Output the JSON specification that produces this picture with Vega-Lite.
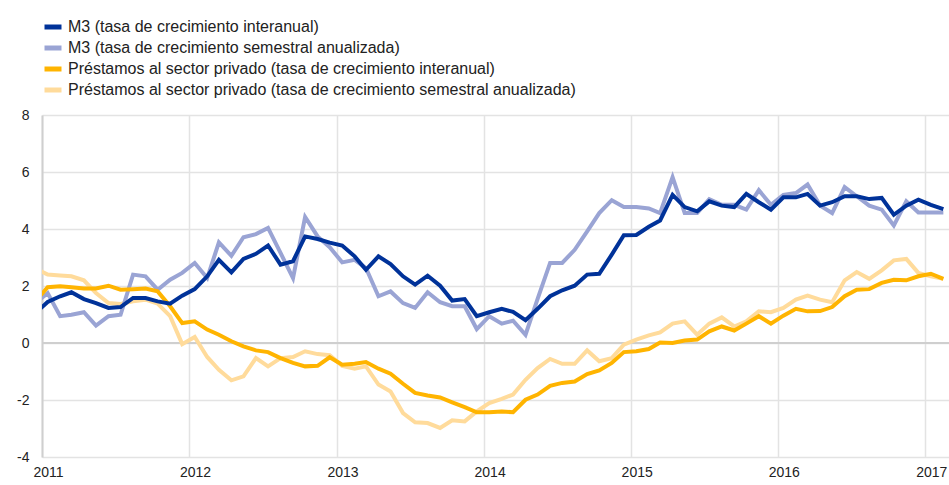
{
  "$schema": "https://vega.github.io/schema/vega-lite/v6.json",
  "autosize": "none",
  "width": 907,
  "height": 342,
  "padding": {"left": 42, "top": 115, "right": 0, "bottom": 28},
  "background": "white",
  "config": {
    "font": "Liberation Sans",
    "view": {"stroke": null},
    "axis": {
      "title": null,
      "labelFontSize": 14,
      "labelColor": "#222222",
      "ticks": false,
      "grid": true,
      "gridColor": "#e3e3e3",
      "gridWidth": 1.5
    }
  },
  "data": {
    "values": [
      {"month": "2010-12-15", "m3_ia": 1.04, "m3_sa": 1.39, "pr_ia": 1.45, "pr_sa": 2.63},
      {"month": "2011-01-15", "m3_ia": 1.44, "m3_sa": 1.75, "pr_ia": 1.96, "pr_sa": 2.40},
      {"month": "2011-02-15", "m3_ia": 1.64, "m3_sa": 0.94, "pr_ia": 1.99, "pr_sa": 2.37},
      {"month": "2011-03-15", "m3_ia": 1.78, "m3_sa": 0.99, "pr_ia": 1.96, "pr_sa": 2.34},
      {"month": "2011-04-15", "m3_ia": 1.54, "m3_sa": 1.08, "pr_ia": 1.91, "pr_sa": 2.20},
      {"month": "2011-05-15", "m3_ia": 1.40, "m3_sa": 0.61, "pr_ia": 1.91, "pr_sa": 1.75},
      {"month": "2011-06-15", "m3_ia": 1.23, "m3_sa": 0.94, "pr_ia": 2.01, "pr_sa": 1.40},
      {"month": "2011-07-15", "m3_ia": 1.26, "m3_sa": 0.99, "pr_ia": 1.87, "pr_sa": 1.37},
      {"month": "2011-08-15", "m3_ia": 1.58, "m3_sa": 2.40, "pr_ia": 1.89, "pr_sa": 1.46},
      {"month": "2011-09-15", "m3_ia": 1.58, "m3_sa": 2.34, "pr_ia": 1.91, "pr_sa": 1.52},
      {"month": "2011-10-15", "m3_ia": 1.46, "m3_sa": 1.87, "pr_ia": 1.81, "pr_sa": 1.38},
      {"month": "2011-11-15", "m3_ia": 1.38, "m3_sa": 2.22, "pr_ia": 1.29, "pr_sa": 0.94},
      {"month": "2011-12-15", "m3_ia": 1.66, "m3_sa": 2.46, "pr_ia": 0.70, "pr_sa": -0.04},
      {"month": "2012-01-15", "m3_ia": 1.89, "m3_sa": 2.81, "pr_ia": 0.76, "pr_sa": 0.21},
      {"month": "2012-02-15", "m3_ia": 2.34, "m3_sa": 2.28, "pr_ia": 0.47, "pr_sa": -0.49},
      {"month": "2012-03-15", "m3_ia": 2.92, "m3_sa": 3.53, "pr_ia": 0.29, "pr_sa": -0.94},
      {"month": "2012-04-15", "m3_ia": 2.48, "m3_sa": 3.06, "pr_ia": 0.06, "pr_sa": -1.31},
      {"month": "2012-05-15", "m3_ia": 2.95, "m3_sa": 3.71, "pr_ia": -0.12, "pr_sa": -1.17},
      {"month": "2012-06-15", "m3_ia": 3.13, "m3_sa": 3.82, "pr_ia": -0.26, "pr_sa": -0.53},
      {"month": "2012-07-15", "m3_ia": 3.42, "m3_sa": 4.04, "pr_ia": -0.32, "pr_sa": -0.82},
      {"month": "2012-08-15", "m3_ia": 2.75, "m3_sa": 3.16, "pr_ia": -0.53, "pr_sa": -0.53},
      {"month": "2012-09-15", "m3_ia": 2.87, "m3_sa": 2.28, "pr_ia": -0.70, "pr_sa": -0.49},
      {"month": "2012-10-15", "m3_ia": 3.74, "m3_sa": 4.42, "pr_ia": -0.82, "pr_sa": -0.29},
      {"month": "2012-11-15", "m3_ia": 3.65, "m3_sa": 3.74, "pr_ia": -0.80, "pr_sa": -0.39},
      {"month": "2012-12-15", "m3_ia": 3.52, "m3_sa": 3.36, "pr_ia": -0.50, "pr_sa": -0.43},
      {"month": "2013-01-15", "m3_ia": 3.42, "m3_sa": 2.83, "pr_ia": -0.76, "pr_sa": -0.80},
      {"month": "2013-02-15", "m3_ia": 3.04, "m3_sa": 2.92, "pr_ia": -0.73, "pr_sa": -0.90},
      {"month": "2013-03-15", "m3_ia": 2.57, "m3_sa": 2.63, "pr_ia": -0.67, "pr_sa": -0.82},
      {"month": "2013-04-15", "m3_ia": 3.04, "m3_sa": 1.64, "pr_ia": -0.90, "pr_sa": -1.46},
      {"month": "2013-05-15", "m3_ia": 2.77, "m3_sa": 1.81, "pr_ia": -1.08, "pr_sa": -1.70},
      {"month": "2013-06-15", "m3_ia": 2.34, "m3_sa": 1.40, "pr_ia": -1.43, "pr_sa": -2.46},
      {"month": "2013-07-15", "m3_ia": 2.05, "m3_sa": 1.23, "pr_ia": -1.75, "pr_sa": -2.78},
      {"month": "2013-08-15", "m3_ia": 2.36, "m3_sa": 1.78, "pr_ia": -1.84, "pr_sa": -2.81},
      {"month": "2013-09-15", "m3_ia": 2.01, "m3_sa": 1.43, "pr_ia": -1.91, "pr_sa": -2.98},
      {"month": "2013-10-15", "m3_ia": 1.49, "m3_sa": 1.29, "pr_ia": -2.08, "pr_sa": -2.71},
      {"month": "2013-11-15", "m3_ia": 1.54, "m3_sa": 1.29, "pr_ia": -2.25, "pr_sa": -2.75},
      {"month": "2013-12-15", "m3_ia": 0.94, "m3_sa": 0.49, "pr_ia": -2.43, "pr_sa": -2.40},
      {"month": "2014-01-15", "m3_ia": 1.08, "m3_sa": 0.94, "pr_ia": -2.43, "pr_sa": -2.11},
      {"month": "2014-02-15", "m3_ia": 1.20, "m3_sa": 0.68, "pr_ia": -2.40, "pr_sa": -1.96},
      {"month": "2014-03-15", "m3_ia": 1.09, "m3_sa": 0.78, "pr_ia": -2.43, "pr_sa": -1.81},
      {"month": "2014-04-15", "m3_ia": 0.80, "m3_sa": 0.29, "pr_ia": -1.99, "pr_sa": -1.29},
      {"month": "2014-05-15", "m3_ia": 1.20, "m3_sa": 1.55, "pr_ia": -1.81, "pr_sa": -0.88},
      {"month": "2014-06-15", "m3_ia": 1.64, "m3_sa": 2.81, "pr_ia": -1.50, "pr_sa": -0.56},
      {"month": "2014-07-15", "m3_ia": 1.85, "m3_sa": 2.81, "pr_ia": -1.40, "pr_sa": -0.73},
      {"month": "2014-08-15", "m3_ia": 2.01, "m3_sa": 3.27, "pr_ia": -1.35, "pr_sa": -0.73},
      {"month": "2014-09-15", "m3_ia": 2.40, "m3_sa": 3.92, "pr_ia": -1.09, "pr_sa": -0.26},
      {"month": "2014-10-15", "m3_ia": 2.43, "m3_sa": 4.56, "pr_ia": -0.96, "pr_sa": -0.64},
      {"month": "2014-11-15", "m3_ia": 3.10, "m3_sa": 5.01, "pr_ia": -0.70, "pr_sa": -0.53},
      {"month": "2014-12-15", "m3_ia": 3.78, "m3_sa": 4.77, "pr_ia": -0.32, "pr_sa": -0.06},
      {"month": "2015-01-15", "m3_ia": 3.79, "m3_sa": 4.77, "pr_ia": -0.29, "pr_sa": 0.12},
      {"month": "2015-02-15", "m3_ia": 4.08, "m3_sa": 4.72, "pr_ia": -0.21, "pr_sa": 0.27},
      {"month": "2015-03-15", "m3_ia": 4.30, "m3_sa": 4.56, "pr_ia": 0.02, "pr_sa": 0.37},
      {"month": "2015-04-15", "m3_ia": 5.20, "m3_sa": 5.82, "pr_ia": 0.00, "pr_sa": 0.68},
      {"month": "2015-05-15", "m3_ia": 4.77, "m3_sa": 4.56, "pr_ia": 0.09, "pr_sa": 0.76},
      {"month": "2015-06-15", "m3_ia": 4.62, "m3_sa": 4.56, "pr_ia": 0.12, "pr_sa": 0.29},
      {"month": "2015-07-15", "m3_ia": 4.97, "m3_sa": 5.05, "pr_ia": 0.41, "pr_sa": 0.68},
      {"month": "2015-08-15", "m3_ia": 4.82, "m3_sa": 4.85, "pr_ia": 0.58, "pr_sa": 0.90},
      {"month": "2015-09-15", "m3_ia": 4.77, "m3_sa": 4.85, "pr_ia": 0.44, "pr_sa": 0.58},
      {"month": "2015-10-15", "m3_ia": 5.23, "m3_sa": 4.68, "pr_ia": 0.68, "pr_sa": 0.76},
      {"month": "2015-11-15", "m3_ia": 4.94, "m3_sa": 5.36, "pr_ia": 0.94, "pr_sa": 1.11},
      {"month": "2015-12-15", "m3_ia": 4.68, "m3_sa": 4.85, "pr_ia": 0.68, "pr_sa": 1.08},
      {"month": "2016-01-15", "m3_ia": 5.11, "m3_sa": 5.20, "pr_ia": 0.96, "pr_sa": 1.23},
      {"month": "2016-02-15", "m3_ia": 5.11, "m3_sa": 5.26, "pr_ia": 1.20, "pr_sa": 1.52},
      {"month": "2016-03-15", "m3_ia": 5.23, "m3_sa": 5.56, "pr_ia": 1.11, "pr_sa": 1.66},
      {"month": "2016-04-15", "m3_ia": 4.82, "m3_sa": 4.82, "pr_ia": 1.12, "pr_sa": 1.52},
      {"month": "2016-05-15", "m3_ia": 4.94, "m3_sa": 4.56, "pr_ia": 1.26, "pr_sa": 1.43},
      {"month": "2016-06-15", "m3_ia": 5.15, "m3_sa": 5.47, "pr_ia": 1.64, "pr_sa": 2.20},
      {"month": "2016-07-15", "m3_ia": 5.15, "m3_sa": 5.15, "pr_ia": 1.87, "pr_sa": 2.49},
      {"month": "2016-08-15", "m3_ia": 5.05, "m3_sa": 4.82, "pr_ia": 1.89, "pr_sa": 2.25},
      {"month": "2016-09-15", "m3_ia": 5.09, "m3_sa": 4.68, "pr_ia": 2.11, "pr_sa": 2.55},
      {"month": "2016-10-15", "m3_ia": 4.50, "m3_sa": 4.12, "pr_ia": 2.22, "pr_sa": 2.90},
      {"month": "2016-11-15", "m3_ia": 4.82, "m3_sa": 4.97, "pr_ia": 2.20, "pr_sa": 2.95},
      {"month": "2016-12-15", "m3_ia": 5.03, "m3_sa": 4.58, "pr_ia": 2.34, "pr_sa": 2.46},
      {"month": "2017-01-15", "m3_ia": 4.85, "m3_sa": 4.58, "pr_ia": 2.43, "pr_sa": 2.34},
      {"month": "2017-02-15", "m3_ia": 4.70, "m3_sa": 4.58, "pr_ia": 2.25, "pr_sa": 2.25}
    ]
  },
  "transform": [
    {"fold": ["pr_sa", "m3_sa", "pr_ia", "m3_ia"], "as": ["serie", "valor"]}
  ],
  "encoding": {
    "x": {
      "field": "month",
      "type": "temporal",
      "scale": {"type": "utc", "domain": ["2011-01-01", "2017-03-01"]},
      "axis": {
        "format": "%Y",
        "tickCount": 7,
        "labelOffset": 6,
        "labelFlush": false,
        "labelBound": false,
        "labelOverlap": false,
        "labelPadding": 8,
        "domain": false
      }
    },
    "y": {
      "field": "valor",
      "type": "quantitative",
      "scale": {"domain": [-4, 8], "nice": false, "zero": false},
      "axis": {
        "values": [-4, -2, 0, 2, 4, 6, 8],
        "labelExpr": "'' + datum.value",
        "labelPadding": 13,
        "domain": true,
        "domainColor": "#cfcfcf",
        "domainWidth": 2
      }
    }
  },
  "layer": [
    {
      "mark": {"type": "rule", "color": "#cfcfcf", "strokeWidth": 2},
      "encoding": {"x": null, "y": {"datum": 0}}
    },
    {
      "mark": {"type": "line", "strokeWidth": 4, "clip": true, "strokeJoin": "miter", "strokeMiterLimit": 4},
      "encoding": {
        "color": {
          "field": "serie",
          "type": "nominal",
          "scale": {
            "domain": ["m3_ia", "m3_sa", "pr_ia", "pr_sa"],
            "range": ["#003299", "#9aa4d4", "#ffb400", "#ffdb9b"]
          },
          "legend": {
            "title": null,
            "orient": "none",
            "legendX": 0,
            "legendY": -99,
            "direction": "vertical",
            "symbolType": "stroke",
            "symbolStrokeWidth": 5,
            "symbolSize": 289,
            "labelFontSize": 16,
            "labelColor": "#222222",
            "labelOffset": 4,
            "labelLimit": 0,
            "rowPadding": -1.2,
            "labelExpr": "datum.value == 'm3_ia' ? 'M3 (tasa de crecimiento interanual)' : datum.value == 'm3_sa' ? 'M3 (tasa de crecimiento semestral anualizada)' : datum.value == 'pr_ia' ? 'Préstamos al sector privado (tasa de crecimiento interanual)' : 'Préstamos al sector privado (tasa de crecimiento semestral anualizada)'"
          }
        }
      }
    }
  ]
}
